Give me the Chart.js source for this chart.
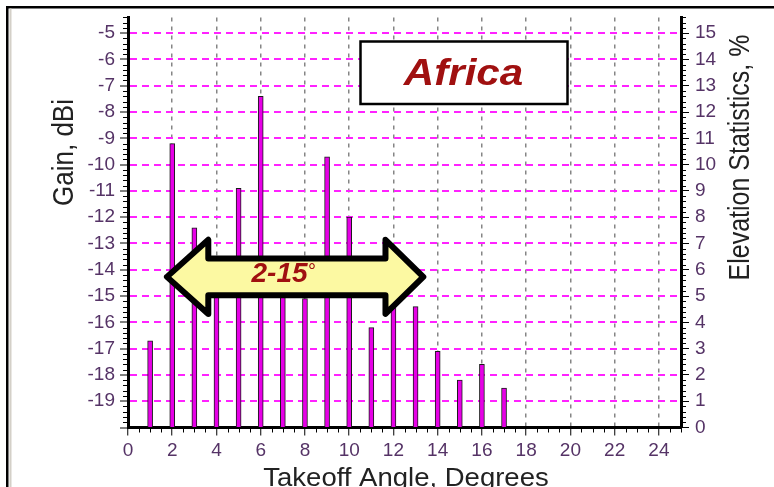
<!DOCTYPE html>
<html>
<head>
<meta charset="utf-8">
<script src="https://cdn.jsdelivr.net/npm/chart.js@4/dist/chart.umd.min.js"></script>
<style>
  html, body { margin: 0; padding: 0; background: #fff; overflow: hidden; }
  #wrap { width: 774px; height: 487px; position: relative; }
</style>
</head>
<body>
<div id="wrap"><canvas id="c" width="774" height="487"></canvas></div>
<script>
// Elevation statistics per takeoff angle (degrees -> % of openings)
const takeoffAngles = [1, 2, 3, 4, 5, 6, 7, 8, 9, 10, 11, 12, 13, 14, 15, 16, 17];
const elevationPct  = [3.3, 10.8, 7.6, 6.0, 9.1, 12.6, 5.6, 4.9, 10.3, 8.0, 3.8, 5.4, 4.6, 2.9, 1.8, 2.4, 1.5];

// Axis ranges
const angleRange = [0, 25];
const gainRange  = [-20, -4.4];   // dBi, left axis
const pctRange   = [0, 15.6];     // %, right axis

// Texts
const regionName = 'Africa';
const bandText   = '2-15';
const xTitle     = 'Takeoff Angle, Degrees';
const yTitle     = 'Gain, dBi';
const y1Title    = 'Elevation Statistics, %';

const FONT = '"Liberation Sans", Arial, Helvetica, sans-serif';
const TICK_COLOR = '#553366';
const DARK_RED = '#a01010';

// Double-headed band arrow, in axis units (x: degrees, y: % on right axis)
const bandArrow = { tipL: 1.76, baseL: 3.63, baseR: 11.64, tipR: 13.35, mid: 5.73, head: 1.41, body: 0.70 };

const isInt = v => Math.abs(v - Math.round(v)) < 1e-6;

function drawText(ctx, text, x, y, o) {
  ctx.save();
  ctx.translate(x, y);
  ctx.scale(o.sx || 1, 1);
  if (o.rot) ctx.rotate(o.rot);
  ctx.font = o.font;
  ctx.fillStyle = o.color;
  ctx.textAlign = o.align || 'center';
  ctx.textBaseline = o.baseline || 'alphabetic';
  ctx.fillText(text, 0, 0);
  ctx.restore();
}

const decor = {
  id: 'decor',
  afterDraw(chart) {
    const ctx = chart.ctx;
    const sx = chart.scales.x, yl = chart.scales.y, yr = chart.scales.y1;
    const area = chart.chartArea;

    // minor ticks
    ctx.save();
    ctx.strokeStyle = '#000';
    ctx.lineWidth = 1;
    ctx.beginPath();
    for (let i = 0; i <= 78; i++) {
      const v = gainRange[0] + i * 0.2;
      if (isInt(v)) continue;
      const py = Math.round(yl.getPixelForValue(v)) + 0.5;
      ctx.moveTo(area.left - 5, py); ctx.lineTo(area.left, py);
    }
    for (let i = 0; i <= 78; i++) {
      const v = i * 0.2;
      if (isInt(v)) continue;
      const py = Math.round(yr.getPixelForValue(v)) + 0.5;
      ctx.moveTo(area.right, py); ctx.lineTo(area.right + 5, py);
    }
    for (let i = 0; i <= 50; i++) {
      const v = i * 0.5;
      if (isInt(v) && v % 2 === 0) continue;
      const px = Math.round(sx.getPixelForValue(v)) + 0.5;
      ctx.moveTo(px, area.bottom); ctx.lineTo(px, area.bottom + 5);
    }
    ctx.stroke();
    ctx.restore();

    // outer frame
    ctx.save();
    ctx.fillStyle = '#000';
    ctx.fillRect(6, 6, 768, 2.5);
    ctx.fillRect(6, 6, 2.5, 481);
    ctx.fillStyle = '#d4d0c8';
    ctx.fillRect(9.5, 8.5, 2, 479);
    ctx.restore();

    // axis titles
    drawText(ctx, yTitle, 73, 152.5, { font: `26px ${FONT}`, color: '#222', rot: -Math.PI / 2, sx: 1.1 });
    drawText(ctx, y1Title, 749, 157.5, { font: `25px ${FONT}`, color: '#222', rot: -Math.PI / 2, sx: 1.15 });
    drawText(ctx, xTitle, (area.left + area.right) / 2 + 1.5, 485.6, { font: `25px ${FONT}`, color: '#222', sx: 1.1 });

    // band arrow
    const a = bandArrow;
    const X = v => sx.getPixelForValue(v);
    const Y = v => yr.getPixelForValue(v);
    ctx.save();
    ctx.beginPath();
    ctx.moveTo(X(a.tipL), Y(a.mid));
    ctx.lineTo(X(a.baseL), Y(a.mid + a.head));
    ctx.lineTo(X(a.baseL), Y(a.mid + a.body));
    ctx.lineTo(X(a.baseR), Y(a.mid + a.body));
    ctx.lineTo(X(a.baseR), Y(a.mid + a.head));
    ctx.lineTo(X(a.tipR), Y(a.mid));
    ctx.lineTo(X(a.baseR), Y(a.mid - a.head));
    ctx.lineTo(X(a.baseR), Y(a.mid - a.body));
    ctx.lineTo(X(a.baseL), Y(a.mid - a.body));
    ctx.lineTo(X(a.baseL), Y(a.mid - a.head));
    ctx.closePath();
    ctx.fillStyle = '#fcf9a2';
    ctx.fill();
    ctx.lineWidth = 6;
    ctx.lineJoin = 'round';
    ctx.strokeStyle = '#000';
    ctx.stroke();
    ctx.restore();

    drawText(ctx, bandText, 251.5, 281.7, { font: `italic bold 28px ${FONT}`, color: DARK_RED, align: 'left' });
    drawText(ctx, '\u00B0', 308, 278, { font: `20px ${FONT}`, color: DARK_RED, align: 'left' });

    // region label box
    ctx.save();
    ctx.fillStyle = '#fff';
    ctx.fillRect(360, 41, 208, 63);
    ctx.lineWidth = 2.5;
    ctx.strokeStyle = '#000';
    ctx.strokeRect(360.5, 41.5, 207, 62.5);
    ctx.restore();
    drawText(ctx, regionName, 463.5, 85, { font: `italic bold 36px ${FONT}`, color: DARK_RED, sx: 1.17 });
  }
};

new Chart(document.getElementById('c'), {
  type: 'bar',
  data: {
    datasets: [{
      data: takeoffAngles.map((a, i) => ({ x: a, y: elevationPct[i] })),
      xAxisID: 'x',
      yAxisID: 'y1',
      backgroundColor: '#e600e6',
      borderColor: '#1a1a1a',
      borderWidth: 1,
      borderSkipped: 'bottom',
      barThickness: 5
    }]
  },
  options: {
    responsive: false,
    devicePixelRatio: 1,
    animation: false,
    layout: { padding: { top: 8, left: 0, right: 0, bottom: 0 } },
    plugins: { legend: { display: false }, tooltip: { enabled: false }, title: { display: false } },
    scales: {
      x: {
        type: 'linear',
        position: 'bottom',
        min: angleRange[0], max: angleRange[1],
        offset: false,
        afterFit: s => { s.height = 59.5; },
        ticks: {
          stepSize: 2, autoSkip: false, maxRotation: 0, padding: 4, includeBounds: false,
          color: TICK_COLOR, font: { family: FONT, size: 19 },
          callback: v => (v % 2 === 0 && v < angleRange[1]) ? String(v) : ''
        },
        grid: {
          offset: false,
          lineWidth: 1.5,
          color: c => (c.tick && c.tick.value > 0 && c.tick.value < angleRange[1] && c.tick.value % 2 === 0) ? '#858585' : 'rgba(0,0,0,0)',
          tickColor: c => (c.tick && c.tick.value % 2 === 0 && c.tick.value < angleRange[1]) ? '#000' : 'rgba(0,0,0,0)',
          tickLength: 8, tickWidth: 1
        },
        border: { display: true, color: '#000', width: 3, dash: [4, 5] }
      },
      y: {
        type: 'linear',
        position: 'left',
        min: gainRange[0], max: gainRange[1],
        afterFit: s => { s.width = 128; },
        ticks: {
          stepSize: 1, autoSkip: false, padding: 5, includeBounds: false,
          color: TICK_COLOR, font: { family: FONT, size: 19 },
          callback: v => (isInt(v) && v > gainRange[0]) ? String(Math.round(v)) : ''
        },
        grid: {
          lineWidth: 2,
          color: c => (c.tick && isInt(c.tick.value) && c.tick.value > gainRange[0]) ? '#ff22ff' : 'rgba(0,0,0,0)',
          tickColor: c => (c.tick && isInt(c.tick.value)) ? '#000' : 'rgba(0,0,0,0)',
          tickLength: 8, tickWidth: 1
        },
        border: { display: true, color: '#000', width: 3, dash: [7, 5] }
      },
      y1: {
        type: 'linear',
        position: 'right',
        min: pctRange[0], max: pctRange[1],
        afterFit: s => { s.width = 93; },
        ticks: {
          stepSize: 1, autoSkip: false, padding: 6, includeBounds: false,
          color: TICK_COLOR, font: { family: FONT, size: 19 },
          callback: v => isInt(v) ? String(Math.round(v)) : ''
        },
        grid: {
          drawOnChartArea: false,
          tickColor: c => (c.tick && isInt(c.tick.value)) ? '#000' : 'rgba(0,0,0,0)',
          tickLength: 8, tickWidth: 1
        },
        border: { display: true, color: '#000', width: 3 }
      }
    }
  },
  plugins: [decor]
});
</script>
</body>
</html>
